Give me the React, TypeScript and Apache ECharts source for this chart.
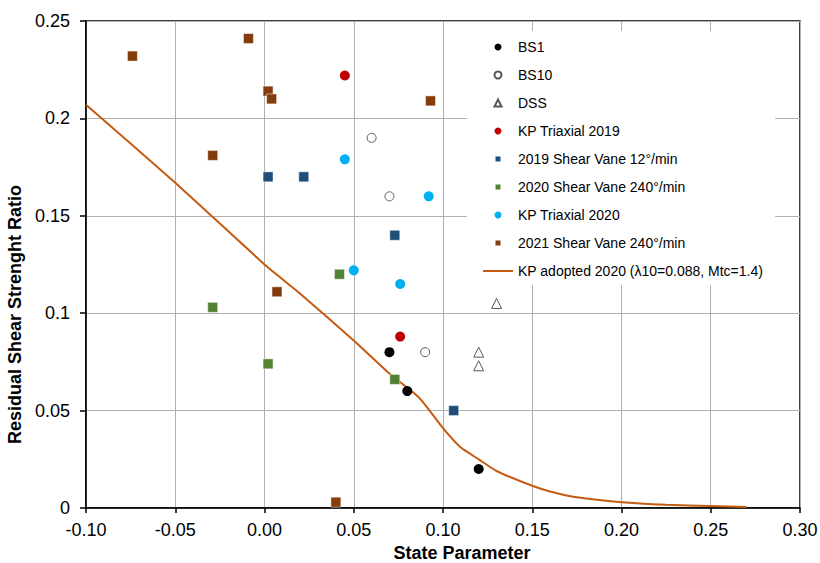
import React, { useEffect, useRef } from "react";
import * as echarts from "echarts";

const bs1: number[][] = [[0.070, 0.080], [0.080, 0.060], [0.120, 0.020]];
const bs10: number[][] = [[0.060, 0.190], [0.070, 0.160], [0.090, 0.080]];
const dss: number[][] = [[0.130, 0.105], [0.120, 0.080], [0.120, 0.073]];
const kpTriaxial2019: number[][] = [[0.045, 0.222], [0.076, 0.088]];
const shearVane2019: number[][] = [[0.002, 0.170], [0.022, 0.170], [0.073, 0.140], [0.106, 0.050]];
const shearVane2020: number[][] = [[-0.029, 0.103], [0.002, 0.074], [0.042, 0.120], [0.073, 0.066]];
const kpTriaxial2020: number[][] = [[0.045, 0.179], [0.092, 0.160], [0.050, 0.122], [0.076, 0.115]];
const shearVane2021: number[][] = [
  [-0.074, 0.232], [-0.009, 0.241], [0.002, 0.214], [0.004, 0.210],
  [-0.029, 0.181], [0.093, 0.209], [0.007, 0.111], [0.040, 0.003],
];
const kpAdopted2020: number[][] = [
  [-0.10, 0.207], [-0.05, 0.167], [0.00, 0.125], [0.02, 0.110], [0.05, 0.086],
  [0.07, 0.069], [0.085, 0.058], [0.09, 0.053], [0.10, 0.041], [0.11, 0.031],
  [0.12, 0.025], [0.13, 0.019], [0.15, 0.0114], [0.16, 0.0085], [0.175, 0.0055],
  [0.20, 0.003], [0.225, 0.0017], [0.25, 0.001], [0.27, 0.0005],
];

const seriesNames = [
  "BS1",
  "BS10",
  "DSS",
  "KP Triaxial 2019",
  "2019 Shear Vane 12°/min",
  "2020 Shear Vane 240°/min",
  "KP Triaxial 2020",
  "2021 Shear Vane 240°/min",
  "KP adopted 2020 (λ10=0.088, Mtc=1.4)",
];

const FONT = "'Liberation Sans', Arial, sans-serif";
const SQUARE = "path://M0,0L10,0L10,10L0,10Z";
const TRIANGLE = "path://M5,0L10,10L0,10Z";
const LINE_ICON = "path://M0,0L30,0L30,2L0,2Z";

export default function App() {
  const ref = useRef<HTMLDivElement>(null);
  useEffect(() => {
    if (!ref.current) return;
    const chart = echarts.init(ref.current, undefined, { renderer: "svg" });
    const scatter = (name: string, data: number[][], symbol: string, style: any, size = 10) => ({
      name,
      type: "scatter",
      data,
      symbol,
      symbolSize: size,
      itemStyle: { opacity: 1, ...style },
      z: 3,
    });
    chart.setOption({
      animation: false,
      backgroundColor: "#ffffff",
      textStyle: { fontFamily: FONT },
      grid: {
        left: 86,
        right: 20,
        top: 21,
        bottom: 55,
        outerBoundsMode: "none",
        containLabel: false,
        show: true,
        borderColor: "#000",
        borderWidth: 1.5,
        backgroundColor: "transparent",
      },
      legend: {
        orient: "vertical",
        left: 467,
        top: 31,
        padding: [9, 12, 7, 16],
        backgroundColor: "#ffffff",
        itemWidth: 30,
        itemHeight: 7,
        itemGap: 14,
        symbolKeepAspect: true,
        textStyle: { fontFamily: FONT, fontSize: 14, color: "#000", lineHeight: 14 },
        data: [
          { name: seriesNames[0], icon: "circle" },
          { name: seriesNames[1], icon: "circle" },
          { name: seriesNames[2], icon: TRIANGLE },
          { name: seriesNames[3], icon: "circle" },
          { name: seriesNames[4], icon: SQUARE },
          { name: seriesNames[5], icon: SQUARE },
          { name: seriesNames[6], icon: "circle" },
          { name: seriesNames[7], icon: SQUARE },
          { name: seriesNames[8], icon: LINE_ICON, itemStyle: { color: "#C55A11", borderWidth: 0 } },
        ],
      },
      xAxis: {
        type: "value",
        min: -0.1,
        max: 0.3,
        interval: 0.05,
        name: "State Parameter",
        nameLocation: "middle",
        nameGap: 35,
        nameTextStyle: {
          fontFamily: FONT,
          fontSize: 18,
          lineHeight: 18,
          fontWeight: "bold",
          color: "#000",
          padding: [0, 0, 0, 38],
        },
        axisLine: { show: true, onZero: false, lineStyle: { color: "#000", width: 1.5 } },
        axisTick: { show: true, inside: false, length: 5, lineStyle: { color: "#000", width: 1.5 } },
        axisLabel: {
          fontFamily: FONT,
          fontSize: 18,
          color: "#000",
          margin: 13,
          formatter: (v: number) => v.toFixed(2),
        },
        splitLine: { show: true, lineStyle: { color: "#b0b0b0", width: 1 } },
      },
      yAxis: {
        type: "value",
        min: 0,
        max: 0.25,
        interval: 0.05,
        name: "Residual Shear Strenght Ratio",
        nameLocation: "middle",
        nameGap: 62,
        nameTextStyle: { fontFamily: FONT, fontSize: 18, fontWeight: "bold", color: "#000", padding: [0, 100, 0, 0] },
        axisLine: { show: true, onZero: false, lineStyle: { color: "#000", width: 1.5 } },
        axisTick: { show: true, inside: false, length: 6, lineStyle: { color: "#000", width: 1.5 } },
        axisLabel: {
          fontFamily: FONT,
          fontSize: 18,
          color: "#000",
          margin: 16,
          formatter: (v: number) => String(Number(v.toFixed(2))),
        },
        splitLine: { show: true, lineStyle: { color: "#b0b0b0", width: 1 } },
      },
      series: [
        scatter(seriesNames[0], bs1, "circle", { color: "#000000" }),
        scatter(seriesNames[1], bs10, "circle", { color: "#ffffff", borderColor: "#595959", borderWidth: 1 }, 9),
        scatter(seriesNames[2], dss, "triangle", { color: "#ffffff", borderColor: "#595959", borderWidth: 1 }, 10),
        scatter(seriesNames[3], kpTriaxial2019, "circle", { color: "#C00000" }),
        scatter(seriesNames[4], shearVane2019, "rect", { color: "#1F4E79", borderColor: "#ffffff", borderWidth: 0.5 }),
        scatter(seriesNames[5], shearVane2020, "rect", { color: "#548235", borderColor: "#ffffff", borderWidth: 0.5 }),
        scatter(seriesNames[6], kpTriaxial2020, "circle", { color: "#00B0F0" }),
        scatter(seriesNames[7], shearVane2021, "rect", { color: "#843C0C", borderColor: "#ffffff", borderWidth: 0.5 }),
        {
          name: seriesNames[8],
          type: "line",
          data: kpAdopted2020,
          symbol: "none",
          showSymbol: false,
          smooth: 0.15,
          z: 2,
          lineStyle: { color: "#C55A11", width: 2 },
          itemStyle: { color: "#C55A11" },
        },
      ],
    });
    return () => chart.dispose();
  }, []);
  return (
    <div
      ref={ref}
      style={{ position: "fixed", left: 0, top: 0, width: 820, height: 563, background: "#fff" }}
    />
  );
}
